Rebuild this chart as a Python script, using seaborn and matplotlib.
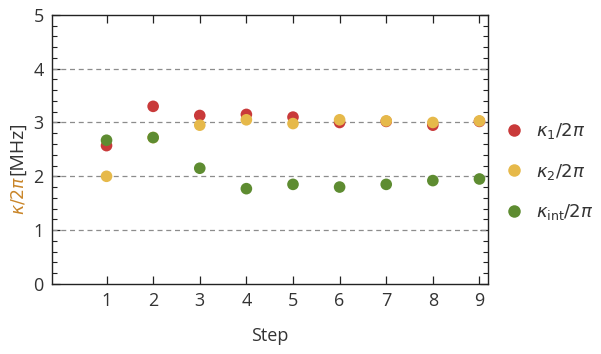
import numpy as np
import pandas as pd
import matplotlib
matplotlib.use("Agg")
import matplotlib.pyplot as plt
from matplotlib.ticker import MultipleLocator, FixedLocator
from matplotlib.lines import Line2D
import seaborn as sns

# Decay rates per step (MHz)
steps = [1, 2, 3, 4, 5, 6, 7, 8, 9]
kappa_1 = [2.57, 3.30, 3.13, 3.15, 3.10, 3.00, 3.02, 2.95, 3.02]
kappa_2 = [2.00, 2.72, 2.95, 3.05, 2.98, 3.05, 3.03, 3.00, 3.03]
kappa_int = [2.67, 2.72, 2.15, 1.77, 1.85, 1.80, 1.85, 1.92, 1.95]

series_labels = [r"$\kappa_1/2\pi$", r"$\kappa_2/2\pi$", r"$\kappa_{\mathrm{int}}/2\pi$"]
series_colors = ["#C93A3A", "#E6B94A", "#5E8C31"]
y_ticks = [0, 1, 2, 3, 4, 5]

df = pd.DataFrame({
    "Step": steps * 3,
    "kappa": kappa_1 + kappa_2 + kappa_int,
    "series": [series_labels[0]] * 9 + [series_labels[1]] * 9 + [series_labels[2]] * 9,
})

sns.set_style("ticks")
plt.rcParams["font.family"] = ["Open Sans", "DejaVu Sans"]
plt.rcParams["mathtext.fontset"] = "dejavusans"

text_color = "#333333"
fig = plt.figure(figsize=(6.01, 3.54), dpi=100)
ax = fig.add_axes([0.0865, 0.198, 0.726, 0.760])

sns.scatterplot(data=df, x="Step", y="kappa", hue="series",
                palette=dict(zip(series_labels, series_colors)),
                s=70, linewidth=0, ax=ax, legend=False, zorder=3)

ax.set_xlim(-0.17, 9.19)
ax.set_ylim(0, 5)
ax.xaxis.set_major_locator(FixedLocator(steps))
ax.yaxis.set_major_locator(FixedLocator(y_ticks))
ax.yaxis.set_minor_locator(MultipleLocator(0.2))

for yv in [1, 2, 3, 4]:
    ax.axhline(yv, color="#8c8c8c", lw=0.9, ls=(0, (4, 3)), zorder=1)

ax.tick_params(axis="both", which="major", direction="in", length=6, width=0.9,
               color="#222222", labelsize=13, labelcolor=text_color,
               top=True, right=True, pad=6)
ax.tick_params(axis="y", which="minor", direction="in", length=3.5, width=0.8,
               color="#222222", left=True, right=True)
ax.tick_params(axis="x", which="minor", bottom=False, top=False)
for sp in ax.spines.values():
    sp.set_color("#222222")
    sp.set_linewidth(1.0)

ax.set_xlabel("Step", fontsize=13, color=text_color, labelpad=12)
ax.set_ylabel("")

# two-colour vertical axis label, the two parts meeting at one point
split_y = 0.503
fig.text(0.030, split_y, r"$\kappa/2\pi$", rotation=90, ha="center", va="top",
         fontsize=12.5, color="#C98528")
fig.text(0.029, split_y + 0.004, "[MHz]", rotation=90, ha="center", va="bottom",
         fontsize=14, color=text_color)

handles = [Line2D([0], [0], marker="o", ls="", markersize=9, markerfacecolor=c,
                  markeredgewidth=0) for c in series_colors]
leg = fig.legend(handles, series_labels, loc="center left",
                 bbox_to_anchor=(0.81, 0.515), frameon=False, fontsize=13,
                 handletextpad=0.6, labelspacing=1.15, handlelength=1.2)
for t in leg.get_texts():
    t.set_color(text_color)

fig.savefig("out.png", dpi=100)
